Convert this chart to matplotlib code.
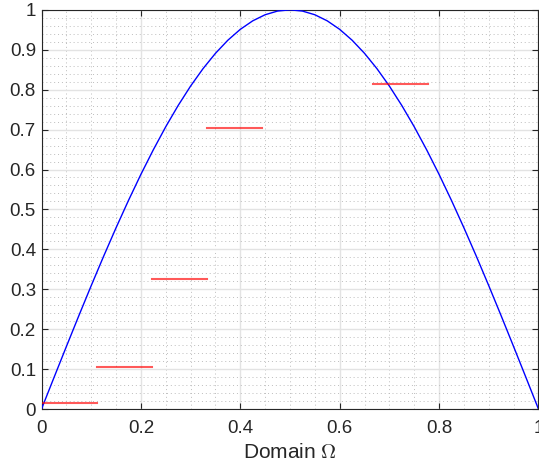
import numpy as np
import matplotlib
matplotlib.use("Agg")
import matplotlib.pyplot as plt
from matplotlib.ticker import MultipleLocator

plt.rcParams['font.family'] = ['Liberation Sans', 'DejaVu Sans']
plt.rcParams['mathtext.fontset'] = 'cm'

# curve, x step 0.025
half = [0.0, 0.0785, 0.1564, 0.2334, 0.3090, 0.3827, 0.4540, 0.5225, 0.5878,
        0.6494, 0.7071, 0.7604, 0.8090, 0.8526, 0.8910, 0.9239, 0.9511, 0.9724,
        0.9877, 0.9969]
curve_x = [i * 0.025 for i in range(41)]
curve_y = half + [1.0] + half[::-1]

# red piecewise-constant segments
seg_start = [0.0, 0.1111, 0.2222, 0.3333, 0.6667]
seg_end = [0.1111, 0.2222, 0.3333, 0.4444, 0.7778]
seg_val = [0.015, 0.105, 0.325, 0.705, 0.815]

fig = plt.figure(figsize=(5.39, 4.68), dpi=100)
ax = fig.add_axes([0.077, 0.126, 0.922, 0.853])

ax.plot(curve_x, curve_y, color='blue', lw=1.0, zorder=3)
for a, b, v in zip(seg_start, seg_end, seg_val):
    ax.plot([a, b], [v, v], color='red', alpha=0.65, lw=1.5, zorder=3)

ax.set_xlim(0, 1)
ax.set_ylim(0, 1)
ax.xaxis.set_major_locator(MultipleLocator(0.2))
ax.xaxis.set_minor_locator(MultipleLocator(0.05))
ax.yaxis.set_major_locator(MultipleLocator(0.1))
ax.yaxis.set_minor_locator(MultipleLocator(0.02))
ax.xaxis.set_major_formatter(plt.FuncFormatter(lambda v, p: f"{v:g}"))
ax.yaxis.set_major_formatter(plt.FuncFormatter(lambda v, p: f"{v:g}"))

ax.grid(True, which='major', color='#e3e3e3', lw=1.0, zorder=0)
ax.grid(True, which='minor', color='#bdbdbd', lw=0.7, ls=(0, (1, 3)), zorder=0)
ax.set_axisbelow(True)

ax.tick_params(which='both', direction='in', top=True, right=True,
               labelsize=13.5, colors='#262626', length=4, width=0.8)
ax.tick_params(axis='x', pad=8)
ax.tick_params(axis='y', pad=4)
ax.tick_params(which='minor', length=0)
for s in ax.spines.values():
    s.set_color('#262626')
    s.set_linewidth(0.8)

ax.set_xlabel('Domain $\\Omega$', fontsize=15, color='#262626', labelpad=4)

fig.savefig('out.png', dpi=100)
